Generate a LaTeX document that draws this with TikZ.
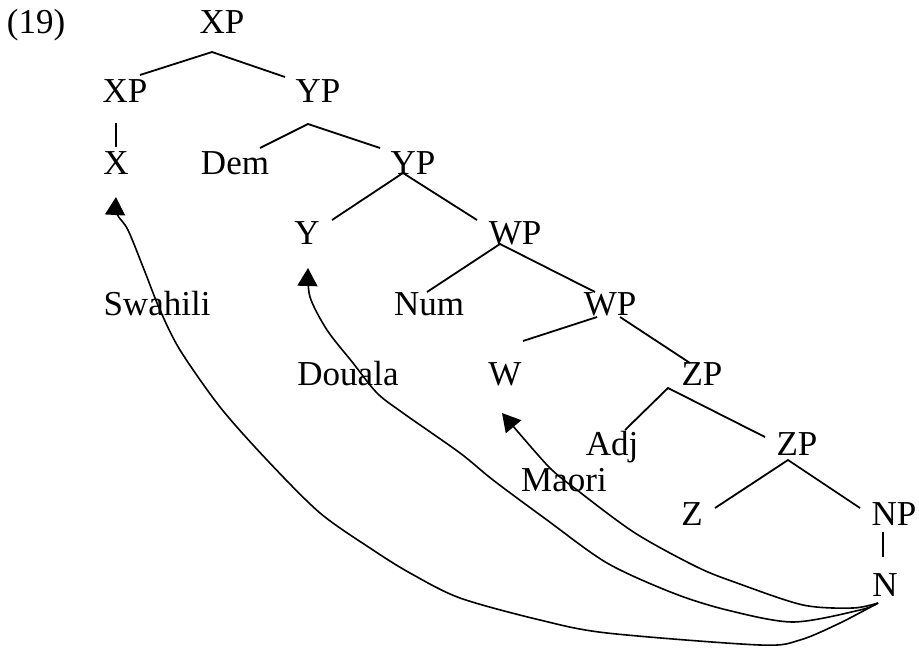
\documentclass[tikz,border=0pt]{standalone}
\usepackage{fontspec}
\setmainfont{Liberation Serif}
\usetikzlibrary{arrows.meta,calc}
\tikzset{
	cat/.style = {inner sep=0pt, text height=11pt, text depth=0pt,
		font=\fontsize{17.5}{21}\selectfont},
	lang/.style = {cat},
	mv/.style = {line width=0.8pt, -{Triangle[width=10pt,length=9pt]}}
}

\begin{document}
\begin{tikzpicture}[x=0.5pt,y=-0.5pt,line width=0.9pt]
\useasboundingbox (0,0) rectangle (919,648);
\node [cat] (ex) at (36,22) {(19)};
\node [cat] (xp0) at (222,22) {XP};
\node [cat] (xp1) at (125,91) {XP};
\node [cat] (yp1) at (318,91) {YP};
\node [cat] (x) at (116,163) {X};
\node [cat] (dem) at (235,163) {Dem};
\node [cat] (yp2) at (413,163) {YP};
\node [cat] (y) at (307,233) {Y};
\node [cat] (wp1) at (515,233) {WP};
\node [cat] (num) at (429,304) {Num};
\node [cat] (wp2) at (610,304) {WP};
\node [cat] (w) at (505,374) {W};
\node [cat] (zp1) at (702,374) {ZP};
\node [cat] (adj) at (612,444) {Adj};
\node [cat] (zp2) at (797,444) {ZP};
\node [cat] (z) at (692,514) {Z};
\node [cat] (np) at (894,514) {NP};
\node [cat] (n) at (885,585) {N};
\node [lang] (swa) at (157,304) {Swahili};
\node [lang] (dou) at (348,374) {Douala};
\node [lang] (mao) at (564,480) {Maori};

% branches
\draw ($(xp1)+(15,-16)$) -- ($(xp0)+(-10,30)$) -- ($(yp1)+(-33,-14)$);
\draw ($(xp1)+(-9,32)$) -- ($(x)+(0,-16)$);
\draw ($(dem)+(25,-15)$) -- ($(yp1)+(-10,33)$) -- ($(yp2)+(-33,-15)$);
\draw ($(y)+(25,-13)$) -- ($(yp2)+(-10,10)$) -- ($(wp1)+(-38,-13)$);
\draw ($(num)+(-2,-12)$) -- ($(wp1)+(-15,11)$) -- ($(wp2)+(-15,-12)$);
\draw ($(w)+(18,-33)$) -- ($(wp2)+(-13,13)$);
\draw ($(wp2)+(10,13)$) -- ($(zp1)+(-12,-11)$);
\draw ($(adj)+(13,-14)$) -- ($(zp1)+(-34,14)$) -- ($(zp2)+(-32,-7)$);
\draw ($(z)+(23,-6)$) -- ($(zp2)+(-9,16)$) -- ($(np)+(-34,-6)$);
\draw ($(np)+(-11,18)$) -- ($(n)+(-2,-28)$);

% movement of N
\draw [mv] plot [smooth] coordinates {($(n)+(-7,18)$) (840,623) (800,640) (760,645)
	(607,633) (540,620) (460,598) (410,573) (373,550) (320,513)
	(267,460) (220,407) (180,350) (160,310) (145,272)
	(128,230) (117,214) ($(x)+(0,34)$)};
\draw [mv] plot [smooth] coordinates {($(n)+(-7,18)$) (860,610) (793,622) (727,610)
	(673,593) (607,563) (547,520) (493,480)
	(460,453) (403,413) (377,393) (353,363) (327,330) (310,297) ($(y)+(1,35)$)};
\draw [mv] plot [smooth] coordinates {($(n)+(-7,18)$) (853,608) (803,605) (737,583)
	(697,567) (635,533) (577,490) (548,466) ($(w)+(-3,39)$)};
\end{tikzpicture}
\end{document}
